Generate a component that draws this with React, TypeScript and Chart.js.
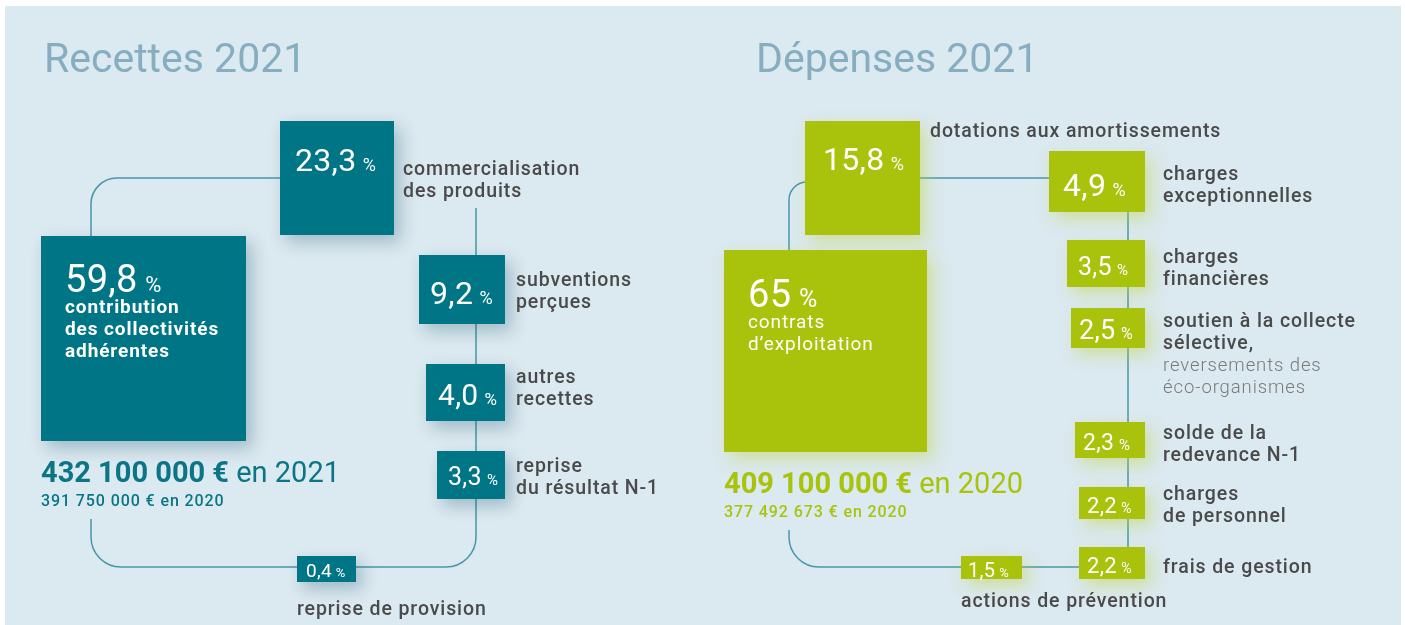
import React, { useEffect, useRef } from "react";
import { Chart, registerables } from "chart.js";

Chart.register(...registerables);

// ---------- DATA ----------
const recettesTitle = "Recettes 2021";
const depensesTitle = "Dépenses 2021";

const recettesValues = [59.8, 23.3, 9.2, 4.0, 3.3, 0.4];
const recettesLabels: string[][] = [
  ["contribution", "des collectivités", "adhérentes"],
  ["commercialisation", "des produits"],
  ["subventions", "perçues"],
  ["autres", "recettes"],
  ["reprise", "du résultat N-1"],
  ["reprise de provision"],
];

const depensesValues = [65, 15.8, 4.9, 3.5, 2.5, 2.3, 2.2, 2.2, 1.5];
const depensesLabels: string[][] = [
  ["contrats", "d’exploitation"],
  ["dotations aux amortissements"],
  ["charges", "exceptionnelles"],
  ["charges", "financières"],
  ["soutien à la collecte", "sélective,"],
  ["solde de la", "redevance N-1"],
  ["charges", "de personnel"],
  ["frais de gestion"],
  ["actions de prévention"],
];
const depensesSubLabels: string[][] = [[], [], [], [], ["reversements des", "éco-organismes"], [], [], [], []];

const recettesTotal = "432 100 000 €";
const recettesTotalSuffix = " en 2021";
const recettesPrev = "391 750 000 € en 2020";
const depensesTotal = "409 100 000 €";
const depensesTotalSuffix = " en 2020";
const depensesPrev = "377 492 673 € en 2020";

// ---------- LAYOUT (positions / sizes / styles) ----------
const FONT = "Roboto";
const COLORS = {
  bg: "#dbe9f0",
  teal: "#007585",
  green: "#a9c30c",
  title: "#86aec0",
  label: "#4a4a4a",
  labelLight: "#7a7a7a",
  line: "#4896a8",
  white: "#ffffff",
};

type BoxLayout = {
  r: [number, number, number, number];
  nx: number; nb: number; ns: number; ps: number;
  lx: number; lb: number; inside?: boolean; bold?: boolean;
};

const recettesLayout: BoxLayout[] = [
  { r: [41, 236, 246, 441], nx: 65, nb: 292, ns: 38, ps: 22, lx: 65, lb: 313, inside: true, bold: true },
  { r: [280, 121, 394, 235], nx: 295, nb: 171, ns: 32, ps: 18, lx: 403, lb: 175 },
  { r: [419, 255, 505, 324], nx: 430, nb: 304, ns: 32, ps: 18, lx: 516, lb: 286 },
  { r: [426, 364, 505, 421], nx: 438, nb: 405, ns: 30, ps: 17, lx: 516, lb: 383 },
  { r: [437, 451, 505, 499], nx: 448, nb: 485, ns: 25, ps: 15, lx: 516, lb: 472 },
  { r: [297, 556, 356, 582], nx: 306, nb: 577, ns: 19, ps: 13, lx: 297, lb: 615 },
];
const depensesLayout: BoxLayout[] = [
  { r: [724, 250, 927, 452], nx: 748, nb: 307, ns: 38, ps: 25, lx: 748, lb: 328, inside: true },
  { r: [805, 121, 920, 235], nx: 823, nb: 170, ns: 32, ps: 18, lx: 930, lb: 137 },
  { r: [1049, 151, 1145, 212], nx: 1063, nb: 196, ns: 32, ps: 18, lx: 1163, lb: 180 },
  { r: [1067, 240, 1145, 287], nx: 1078, nb: 275, ns: 25, ps: 15, lx: 1163, lb: 263 },
  { r: [1071, 308, 1145, 348], nx: 1079, nb: 339, ns: 27, ps: 16, lx: 1163, lb: 327 },
  { r: [1075, 422, 1145, 458], nx: 1083, nb: 450, ns: 23, ps: 15, lx: 1163, lb: 439 },
  { r: [1079, 487, 1145, 519], nx: 1087, nb: 513, ns: 22, ps: 14, lx: 1163, lb: 500 },
  { r: [1079, 547, 1145, 579], nx: 1087, nb: 573, ns: 22, ps: 14, lx: 1163, lb: 573 },
  { r: [961, 556, 1022, 579], nx: 968, nb: 577, ns: 20, ps: 13, lx: 961, lb: 607 },
];

// connector paths: list of [x,y] with rounded corners (radius)
const connectors: { pts: [number, number][]; radius: number }[] = [
  { pts: [[91, 236], [91, 178], [280, 178]], radius: 26 },
  { pts: [[476, 208], [476, 567], [91, 567], [91, 519]], radius: 30 },
  { pts: [[789, 250], [789, 182], [805, 182]], radius: 18 },
  { pts: [[920, 178], [1049, 178]], radius: 0 },
  { pts: [[1128, 212], [1128, 547]], radius: 0 },
  { pts: [[789, 530], [789, 567], [1079, 567]], radius: 30 },
];

const fmtRecettes = (v: number) => v.toFixed(1).replace(".", ",");
const fmtDepenses = (v: number) => (Number.isInteger(v) ? String(v) : v.toFixed(1).replace(".", ","));

const setSpacing = (ctx: any, px: number) => {
  if ("letterSpacing" in ctx) ctx.letterSpacing = `${px}px`;
};

const infographicPlugin = {
  id: "infographic",
  beforeDraw(chart: any) {
    const { ctx, width, height } = chart;
    ctx.save();
    ctx.fillStyle = "#ffffff";
    ctx.fillRect(0, 0, width, height);
    ctx.fillStyle = COLORS.bg;
    ctx.fillRect(5, 6, 1396, 619);
    ctx.restore();
  },
  afterDatasetsDraw(chart: any) {
    const ctx: CanvasRenderingContext2D = chart.ctx;
    const X = (v: number) => chart.scales.x.getPixelForValue(v);
    const Y = (v: number) => chart.scales.y.getPixelForValue(v);
    ctx.save();
    ctx.textBaseline = "alphabetic";
    ctx.textAlign = "left";

    // titles
    ctx.fillStyle = COLORS.title;
    ctx.font = `400 41px ${FONT}`;
    setSpacing(ctx, 0);
    ctx.fillText(recettesTitle, X(44), Y(72));
    ctx.fillText(depensesTitle, X(756), Y(72));

    // connectors
    ctx.strokeStyle = COLORS.line;
    ctx.lineWidth = 1.5;
    connectors.forEach((c) => {
      ctx.beginPath();
      ctx.moveTo(X(c.pts[0][0]), Y(c.pts[0][1]));
      for (let i = 1; i < c.pts.length; i++) {
        const p = c.pts[i];
        if (i < c.pts.length - 1 && c.radius > 0) {
          const n = c.pts[i + 1];
          ctx.arcTo(X(p[0]), Y(p[1]), X(n[0]), Y(n[1]), c.radius);
        } else {
          ctx.lineTo(X(p[0]), Y(p[1]));
        }
      }
      ctx.stroke();
    });

    const drawSide = (dsIndex: number, layout: BoxLayout[], color: string, shadow: string, fmt: (v: number) => string, labels: string[][], subLabels: string[][] | null) => {
      const ds = chart.data.datasets[dsIndex];
      ds.data.forEach((pt: any, i: number) => {
        const L = layout[i];
        const x0 = X(L.r[0]), y0 = Y(L.r[1]), x1 = X(L.r[2]), y1 = Y(L.r[3]);
        ctx.save();
        ctx.shadowColor = shadow;
        ctx.shadowBlur = 16;
        ctx.shadowOffsetX = 6;
        ctx.shadowOffsetY = 7;
        ctx.fillStyle = color;
        ctx.fillRect(x0, y0, x1 - x0, y1 - y0);
        ctx.restore();

        // value
        const num = fmt(pt.v);
        setSpacing(ctx, 0.3);
        ctx.fillStyle = COLORS.white;
        ctx.font = `400 ${L.ns}px ${FONT}`;
        ctx.fillText(num, X(L.nx), Y(L.nb));
        const w = ctx.measureText(num).width;
        ctx.font = `400 ${L.ps}px ${FONT}`;
        ctx.fillText("%", X(L.nx) + w + L.ns * 0.2, Y(L.nb));

        // labels
        const lines = labels[i];
        if (L.inside) {
          ctx.fillStyle = COLORS.white;
          ctx.font = `${L.bold ? 700 : 400} 19px ${FONT}`;
          setSpacing(ctx, 0.9);
        } else {
          ctx.fillStyle = COLORS.label;
          ctx.font = `500 19.5px ${FONT}`;
          setSpacing(ctx, 0.9);
        }
        lines.forEach((s, k) => ctx.fillText(s, X(L.lx), Y(L.lb + k * 22)));
        if (subLabels && subLabels[i].length) {
          ctx.fillStyle = COLORS.labelLight;
          ctx.font = `300 18.5px ${FONT}`;
          setSpacing(ctx, 0.9);
          subLabels[i].forEach((s, k) => ctx.fillText(s, X(L.lx), Y(L.lb + (lines.length + k) * 22)));
        }
        setSpacing(ctx, 0);
      });
    };

    drawSide(0, recettesLayout, COLORS.teal, "rgba(0, 70, 95, 0.28)", fmtRecettes, recettesLabels, null);
    drawSide(1, depensesLayout, COLORS.green, "rgba(190, 210, 60, 0.45)", fmtDepenses, depensesLabels, depensesSubLabels);

    // totals
    const total = (x: number, base: number, big: string, suffix: string, prev: string, color: string) => {
      ctx.fillStyle = color;
      setSpacing(ctx, 0);
      ctx.font = `700 29px ${FONT}`;
      ctx.fillText(big, X(x), Y(base));
      const w = ctx.measureText(big).width;
      ctx.font = `400 29px ${FONT}`;
      ctx.fillText(suffix, X(x) + w, Y(base));
      setSpacing(ctx, 0.9);
      ctx.font = `500 16px ${FONT}`;
      ctx.fillText(prev, X(x), Y(base + 24));
      setSpacing(ctx, 0);
    };
    total(41, 482, recettesTotal, recettesTotalSuffix, recettesPrev, "#0b7585");
    total(724, 493, depensesTotal, depensesTotalSuffix, depensesPrev, COLORS.green);

    ctx.restore();
  },
};

export default function App() {
  const ref = useRef<HTMLCanvasElement | null>(null);
  useEffect(() => {
    if (!ref.current) return;
    const center = (r: [number, number, number, number]) => ({ x: (r[0] + r[2]) / 2, y: (r[1] + r[3]) / 2 });
    const chart = new Chart(ref.current, {
      type: "scatter",
      data: {
        datasets: [
          { label: recettesTitle, data: recettesValues.map((v, i) => ({ ...center(recettesLayout[i].r), v })) as any, pointRadius: 0 },
          { label: depensesTitle, data: depensesValues.map((v, i) => ({ ...center(depensesLayout[i].r), v })) as any, pointRadius: 0 },
        ],
      },
      options: {
        animation: false,
        responsive: false,
        devicePixelRatio: 1,
        layout: { padding: 0 },
        events: [],
        scales: {
          x: { type: "linear", min: 0, max: 1405, display: false },
          y: { type: "linear", min: 0, max: 625, reverse: true, display: false },
        },
        plugins: { legend: { display: false }, tooltip: { enabled: false } },
      },
      plugins: [infographicPlugin],
    });
    return () => chart.destroy();
  }, []);
  return (
    <div style={{ position: "absolute", left: 0, top: 0, width: 1405, height: 625 }}>
      <canvas ref={ref} width={1405} height={625} style={{ display: "block", width: 1405, height: 625 }} />
    </div>
  );
}
